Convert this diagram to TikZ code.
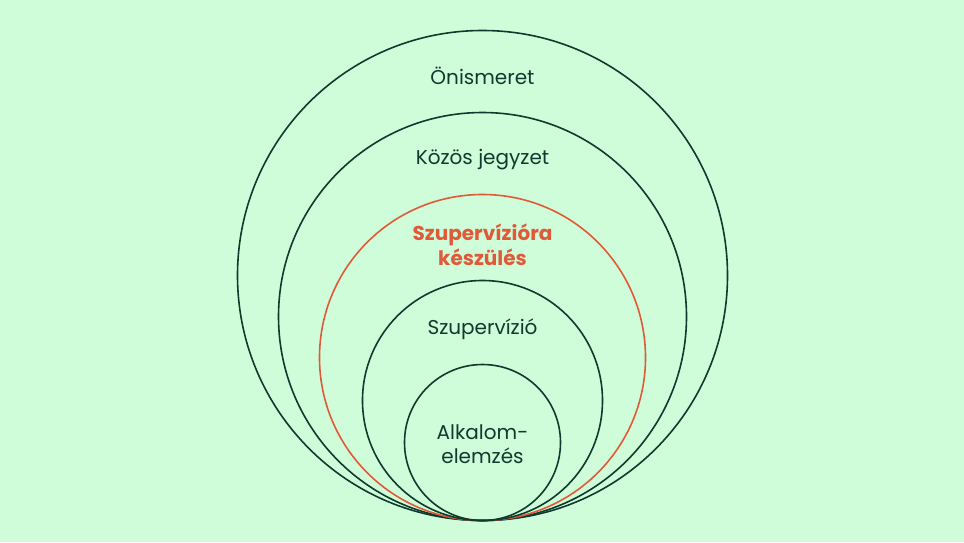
\documentclass[tikz,border=0pt]{standalone}
\usepackage{fontspec}
\setmainfont{Poppins}
\definecolor{bg}{HTML}{D0FDD9}
\definecolor{ink}{HTML}{0F3A2E}
\definecolor{accent}{HTML}{E05A3A}
\begin{document}
\begin{tikzpicture}[x=1pt,y=-1pt,
  ring/.style={draw=ink,line width=1.6pt},
  lbl/.style={text=ink,font=\fontsize{20}{24.5}\selectfont,align=center,inner sep=0pt}]
\fill[bg] (0,0) rectangle (964,542);
\useasboundingbox (0,0) rectangle (964,542);
\draw[ring] (482.5,275.5) circle (245);
\draw[ring] (482.5,316.5) circle (204);
\draw[draw=accent,line width=1.6pt] (482.5,357.5) circle (163);
\draw[ring] (482.5,400.5) circle (120);
\draw[ring] (482.5,442.5) circle (78);
\node[lbl] (n1) at (482.5,76) {Önismeret};
\node[lbl] (n2) at (482.5,160) {Közös jegyzet};
\node[lbl,text=accent,font=\fontsize{20}{25}\selectfont\bfseries] (n3) at (482.5,245) {Szupervízióra\\készülés};
\node[lbl] (n4) at (482.5,329) {Szupervízió};
\node[lbl] (n5) at (482.5,444) {Alkalom-\\elemzés};
\end{tikzpicture}
\end{document}
